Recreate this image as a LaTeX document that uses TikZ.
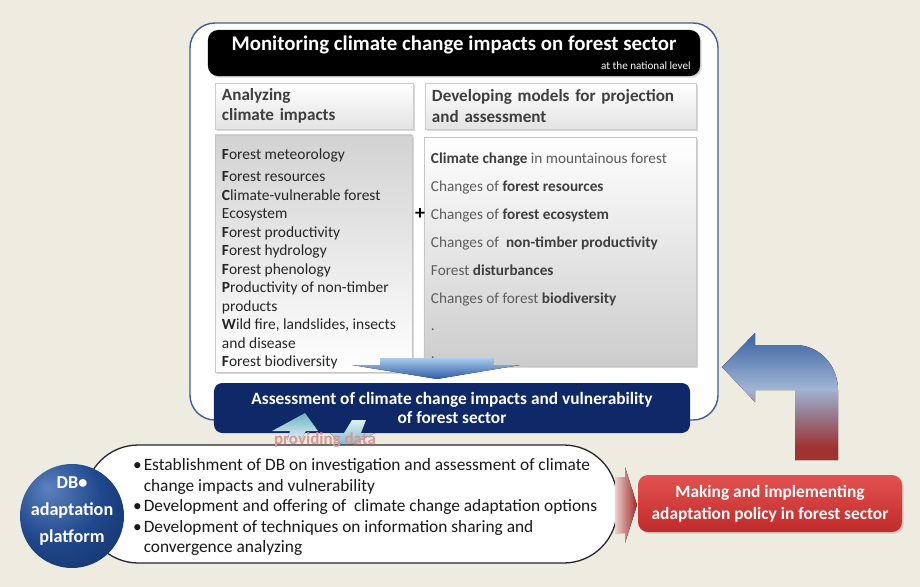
\documentclass[tikz,border=0pt]{standalone}
\usepackage{fontspec}
\setmainfont{Carlito}
\usepackage{xcolor}
\usetikzlibrary{positioning,calc,shadows}

\definecolor{bgbeige}{RGB}{238,235,224}
\definecolor{frameblue}{RGB}{62,96,150}
\definecolor{navy}{RGB}{14,40,104}
\definecolor{headgray}{RGB}{62,62,62}
\definecolor{listgray}{RGB}{92,92,92}
\definecolor{ballhi}{RGB}{92,130,190}
\definecolor{ballmid}{RGB}{32,72,140}
\definecolor{balldark}{RGB}{12,36,86}
\definecolor{backblue}{RGB}{68,108,168}
\definecolor{backlight}{RGB}{160,180,212}
\definecolor{backmauve}{RGB}{150,112,128}
\definecolor{backred}{RGB}{160,50,50}
\pgfdeclareradialshading{dbshade}{\pgfpoint{-12bp}{14bp}}{%
  color(0bp)=(ballhi); color(22bp)=(ballmid); color(52bp)=(balldark); color(70bp)=(balldark)}
\pgfdeclareverticalshading{backshade}{100bp}{%
  color(0bp)=(backred); color(30bp)=(backred); color(41bp)=(backmauve); color(53bp)=(backlight);
  color(72bp)=(backblue); color(100bp)=(backblue)}

\newcommand{\setfs}[2]{\fontsize{#1}{#2}\selectfont}
\newcommand{\dkb}[1]{\textbf{\color{headgray}#1}}
\newcommand{\bul}{\makebox[9pt][l]{\textbullet}}
\newcommand{\ind}{\hspace*{9pt}}

\begin{document}
\begin{tikzpicture}[
  x=0.03cm, y=-0.03cm,
  every node/.style={inner sep=0pt},
  shade/.style={drop shadow={shadow xshift=0.05cm, shadow yshift=-0.05cm, opacity=0.3}},
  frame/.style={draw=frameblue, line width=1.2pt, fill=white, rounded corners=0.75cm},
  titlebar/.style={fill=black, rounded corners=0.3cm, minimum width=14.76cm, minimum height=1.38cm, shade},
  headbox/.style={draw=gray!40, top color=white, bottom color=gray!22, minimum height=1.38cm,
    inner xsep=0.21cm, align=left, text=headgray, font=\setfs{14.6}{17.5}\bfseries, shade},
  listbox/.style={draw=gray!45, shade},
  listtext/.style={anchor=north west, align=left},
  assessbox/.style={fill=navy, rounded corners=0.25cm, minimum width=14.28cm, minimum height=1.5cm,
    text=white, align=center, font=\setfs{14.8}{17}\bfseries},
  platbox/.style={draw=black!85, line width=1.1pt, fill=white, rounded corners=1.6cm,
    minimum width=15.96cm, minimum height=3.54cm},
  dbball/.style={circle, shading=dbshade, minimum size=3.12cm},
  policybox/.style={top color={rgb,255:red,226;green,82;blue,80}, bottom color={rgb,255:red,192;green,42;blue,42},
    rounded corners=0.3cm, minimum width=7.92cm, minimum height=1.71cm, text=white, align=center,
    font=\setfs{14.8}{18.7}\bfseries, shade}
]
\useasboundingbox (0,0) rectangle (920,587);
\fill[bgbeige] (0,0) rectangle (920,587);

% monitoring frame
\draw[frame] (190,23) rectangle (718,420);
\node[titlebar] (title) at (454,53) {};
\node[font=\setfs{17.8}{20}\bfseries, text=white] (titletext) at (454,45) {Monitoring climate change impacts on forest sector};
\node[font=\setfs{9.5}{11}, text=white, anchor=east] (national) at (691,66) {at the national level};

\node[headbox, text width=5.52cm] (headL) at (314,106) {Analyzing\\ climate impacts};
\node[headbox, text width=7.71cm] (headR) at (560.5,106) {Developing models for projection\\and assessment};

\node[listbox, top color=gray!35, bottom color=white, minimum width=5.91cm, minimum height=7.11cm] (impacts) at (313.5,253.5) {};
\node[listtext, font=\setfs{13.2}{15.8}, text=black!85] (impactslist) at ($(impacts.north west)+(7,14)$) {%
  \textbf{F}orest meteorology\\[3pt]
  \textbf{F}orest resources\\
  \textbf{C}limate-vulnerable forest\\
  Ecosystem\\
  \textbf{F}orest productivity\\
  \textbf{F}orest hydrology\\
  \textbf{F}orest phenology\\
  \textbf{P}roductivity of non-timber\\
  products\\
  \textbf{W}ild fire, landslides, insects\\
  and disease\\
  \textbf{F}orest biodiversity};

\node[listbox, top color=white, bottom color=gray!40, minimum width=8.16cm, minimum height=6.87cm] (models) at (560,251.5) {};
\node[listtext, font=\setfs{13}{23.8}, text=listgray] (modelslist) at ($(models.north west)+(7,16)$) {%
  \dkb{Climate change} in mountainous forest\\
  Changes of \dkb{forest resources}\\
  Changes of \dkb{forest ecosystem}\\
  Changes of~ \dkb{non-timber productivity}\\
  Forest \dkb{disturbances}\\
  Changes of forest \dkb{biodiversity}\\
  .\\
  .};

\node[font=\setfs{17}{17}\bfseries] (plus) at (420,214) {+};

% arrow into assessment
\fill[top color={rgb,255:red,172;green,202;blue,236}, bottom color={rgb,255:red,42;green,92;blue,164}]
  (380,358) -- (493,358) -- (493,365) -- (520,365) -- (437,379) -- (352,365) -- (380,365) -- cycle;

\node[assessbox] (assess) at (452,408) {Assessment of climate change impacts and vulnerability\\of forest sector};

% providing data arrows
\fill[top color={rgb,255:red,108;green,178;blue,194}, bottom color={rgb,255:red,228;green,244;blue,246}]
  (287,441) -- (290,431) -- (272,431) -- (305,413) -- (318,431) -- (306,431) -- (300,441) -- cycle;
\fill[top color={rgb,255:red,220;green,240;blue,244}, bottom color={rgb,255:red,112;green,182;blue,198}]
  (352,420) -- (366,420) -- (361,433) -- (375,433) -- (345,448) -- (330,433) -- (344,433) -- cycle;

% platform
\node[platbox] (platform) at (351,504) {};
\node[font=\setfs{14.5}{17}\bfseries, text={rgb,255:red,218;green,150;blue,150}] (providing) at (325,440) {providing data};
\node[dbball] (db) at (72,516) {};
\node[align=center, text=white, font=\setfs{15.5}{23}\bfseries] (dbtext) at (72,511) {DB•\\adaptation\\platform};
\node[anchor=west, align=left, font=\setfs{14.8}{17.5}, text=black!90] (bullets) at (133,507) {%
  \bul Establishment of DB on investigation and assessment of climate\\
  \ind change impacts and vulnerability\\
  \bul Development and offering of~ climate change adaptation options\\
  \bul Development of techniques on information sharing and\\
  \ind convergence analyzing};

% policy
\fill[left color={rgb,255:red,236;green,208;blue,204}, right color={rgb,255:red,164;green,40;blue,40}]
  (615,477) -- (625,477) -- (625,467) -- (637,505) -- (625,543) -- (625,533) -- (615,533) -- cycle;
\node[policybox] (policy) at (770,503.5) {Making and implementing\\adaptation policy in forest sector};

% feedback arrow
\fill[shading=backshade]
  (795,460) -- (795,390) -- (755,390) -- (755,402) -- (722,367) -- (755,333) -- (755,345) -- (795,345)
  .. controls (820,345) and (838,366) .. (838,390) -- (838,460) -- cycle;
\end{tikzpicture}
\end{document}
